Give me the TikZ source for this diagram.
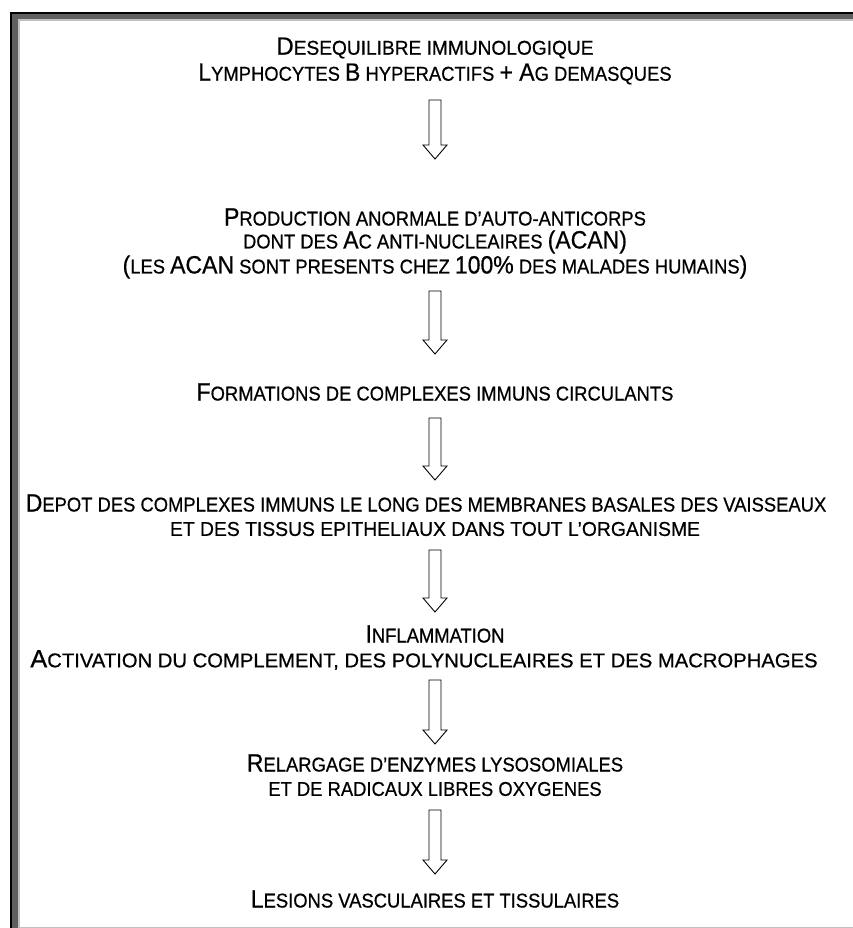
\documentclass[tikz,border=0pt]{standalone}
\usepackage{fontspec}
\newfontfamily\ff{Liberation Sans}[FakeStretch=0.92,FakeBold=0.6]
\usetikzlibrary{calc}
\definecolor{framedark}{HTML}{5F5F5F}
\definecolor{framelight}{HTML}{C0C0C0}
\newcommand\Bg[1]{{\fontsize{25}{28}\selectfont #1}}
\newcommand\hs[2]{\scalebox{#1}[1]{#2}}
\tikzset{
  txt/.style={inner sep=0pt, font=\ff\fontsize{20}{24}\selectfont, text=black},
  blockarrow/.style={draw=black, line width=0.9pt, fill=white, line join=miter},
}
\newcommand\barrow[2]{%
  \draw[blockarrow] let \p1=(#1), \p2=(#2) in
    (\x1-6pt,\y1) -- (\x1+6pt,\y1) -- (\x1+6pt,\y2+14pt) -- (\x1+12pt,\y2+14pt)
    -- (\x2,\y2) -- (\x1-12pt,\y2+14pt) -- (\x1-6pt,\y2+14pt) -- cycle;}
\begin{document}
\begin{tikzpicture}[x=1pt,y=-1pt]
\useasboundingbox (0,0) rectangle (852,928);
% frame
\fill[black] (10,12) rectangle (870,940);
\fill[framedark] (12,14) rectangle (870,940);
\fill[framelight] (18,19.5) rectangle (870,928);
\fill[white] (20,21.5) rectangle (870,926.5);
% texts
\node[txt] (t1a) at (435,48) {\hs{1.04}{\Bg{D}ESEQUILIBRE IMMUNOLOGIQUE}};
\node[txt] (t1b) at (435,74) {\hs{1.0}{\Bg{L}YMPHOCYTES \Bg{B} HYPERACTIFS \Bg{+ A}G DEMASQUES}};
\node[txt] (t2a) at (435,217) {\Bg{P}RODUCTION ANORMALE D’AUTO-ANTICORPS};
\node[txt] (t2b) at (435,242) {DONT DES \Bg{A}C ANTI-NUCLEAIRES \Bg{(ACAN)}};
\node[txt] (t2c) at (435,267) {\Bg{(}LES \Bg{ACAN} SONT PRESENTS CHEZ \Bg{100\%} DES MALADES HUMAINS\Bg{)}};
\node[txt] (t3a) at (435,392) {\Bg{F}ORMATIONS DE COMPLEXES IMMUNS CIRCULANTS};
\node[txt] (t4a) at (426,503) {\Bg{D}EPOT DES COMPLEXES IMMUNS LE LONG DES MEMBRANES BASALES DES VAISSEAUX};
\node[txt] (t4b) at (435,529) {\hs{1.05}{ET DES TISSUS EPITHELIAUX DANS TOUT L’ORGANISME}};
\node[txt] (t5a) at (435,634) {\Bg{I}NFLAMMATION};
\node[txt] (t5b) at (424,660) {\hs{1.1}{\Bg{A}CTIVATION DU COMPLEMENT, DES POLYNUCLEAIRES ET DES MACROPHAGES}};
\node[txt] (t6a) at (435,763) {\Bg{R}ELARGAGE D’ENZYMES LYSOSOMIALES};
\node[txt] (t6b) at (435,789) {ET DE RADICAUX LIBRES OXYGENES};
\node[txt] (t7a) at (435,899) {\Bg{L}ESIONS VASCULAIRES ET TISSULAIRES};
% arrow end points
\coordinate (a1s) at (435,100); \coordinate (a1e) at (435,159);
\coordinate (a2s) at (435,291); \coordinate (a2e) at (435,354);
\coordinate (a3s) at (435,418); \coordinate (a3e) at (435,480);
\coordinate (a4s) at (435,550); \coordinate (a4e) at (435,612);
\coordinate (a5s) at (435,680); \coordinate (a5e) at (435,744);
\coordinate (a6s) at (435,810); \coordinate (a6e) at (435,874);
\barrow{a1s}{a1e}
\barrow{a2s}{a2e}
\barrow{a3s}{a3e}
\barrow{a4s}{a4e}
\barrow{a5s}{a5e}
\barrow{a6s}{a6e}
\end{tikzpicture}
\end{document}
